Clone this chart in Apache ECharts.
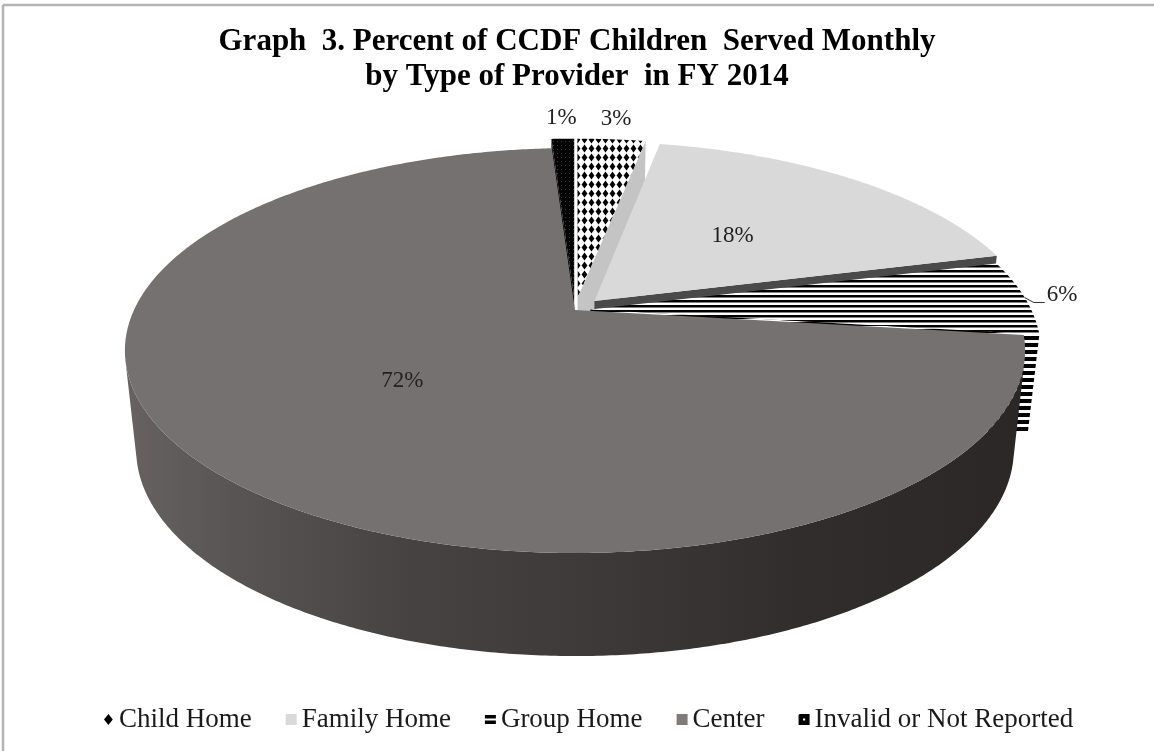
<!DOCTYPE html>
<html><head><meta charset="utf-8">
<script src="https://cdn.jsdelivr.net/npm/echarts/dist/echarts.min.js"></script>
<style>html,body{margin:0;padding:0;background:#fff}#c{width:1154px;height:751px}</style>
</head><body><div id="c"></div><script>
// ---- data ----
const titleLines = ['Graph  3. Percent of CCDF Children  Served Monthly', 'by Type of Provider  in FY 2014'];
const categories = ['Child Home', 'Family Home', 'Group Home', 'Center', 'Invalid or Not Reported'];
const percents = [3, 18, 6, 72, 1];

// ---- geometry / style (not data) ----
const GEO = { cx: 575, cy: 310, rx: 441, ry: 194.4, persp: 0.2, depthPersp: 0.05, depth: 97.9, bottomShrink: 0.025 };
const STYLE = {
  explode: [0.07, 0.065, 0.035, 0, 0.07],
  labelRadius: [1.16, 0.5, 1.0, 0.5, 1.16],
  leader: [false, false, true, false, false]
};

function proj(u, v, h) {
  const d = 1 + GEO.persp * v;
  const dd = 1 + GEO.depthPersp * v;
  return [GEO.cx + GEO.rx * u / d * (1 - GEO.bottomShrink * h), GEO.cy - GEO.ry * v / d + GEO.depth * h / dd];
}
function makePattern(w, h, draw) {
  const c = document.createElement('canvas');
  c.width = w; c.height = h;
  const g = c.getContext('2d');
  draw(g, w, h);
  return { image: c, repeat: 'repeat' };
}
const diamondPat = makePattern(7, 9, (g, w, h) => {
  g.fillStyle = '#fff'; g.fillRect(0, 0, w, h);
  g.fillStyle = '#000'; g.beginPath();
  g.moveTo(3.5, 0.6); g.lineTo(6.4, 4.5); g.lineTo(3.5, 8.4); g.lineTo(0.6, 4.5); g.closePath(); g.fill();
});
const stripePat = makePattern(4, 5, (g, w, h) => {
  g.fillStyle = '#fff'; g.fillRect(0, 0, w, h);
  g.fillStyle = '#000'; g.fillRect(0, 0, w, 2);
  g.fillStyle = '#808080'; g.fillRect(0, 2, w, 1);
});
const stripePat2 = makePattern(4, 7, (g, w, h) => {
  g.fillStyle = '#fff'; g.fillRect(0, 0, w, h);
  g.fillStyle = '#000'; g.fillRect(0, 0, w, 4);
});
const invalidPat = makePattern(4, 4, (g, w, h) => {
  g.fillStyle = '#050505'; g.fillRect(0, 0, w, h);
  g.fillStyle = '#3a3a3a'; g.fillRect(1, 1, 1, 1);
});
const wallGrad = new echarts.graphic.LinearGradient(120, 0, 1030, 0, [
  { offset: 0, color: '#686262' },
  { offset: 0.12, color: '#5a5555' },
  { offset: 0.31, color: '#474343' },
  { offset: 0.53, color: '#3d3939' },
  { offset: 0.75, color: '#312d2d' },
  { offset: 1, color: '#2b2727' }
], true);
const FILLS = {
  top: [diamondPat, '#d9d9d9', stripePat, '#767171', invalidPat],
  cut: ['#c4c4c4', '#4a4a4a', stripePat2, '#5a5555', '#000'],
  wall: ['#333', '#aaa', stripePat2, wallGrad, '#000']
};
const LABEL_FONT = '23px "Liberation Serif", "Times New Roman", serif';

function renderSlice(i) {
  return function (params, api) {
    const value = api.value(0);
    const total = percents.reduce((s, x) => s + x, 0);
    let before = 0;
    for (let j = 0; j < i; j++) before += percents[j];
    const a0 = before / total * Math.PI * 2;
    const a1 = (before + value) / total * Math.PI * 2;
    const mid = (a0 + a1) / 2;
    const e = STYLE.explode[i];
    const ou = e * Math.sin(mid), ov = e * Math.cos(mid);
    const P = (r, t, h) => proj(ou + r * Math.sin(t), ov + r * Math.cos(t), h);
    const n = Math.max(2, Math.ceil((a1 - a0) / (Math.PI / 360)));
    const top = [], bot = [];
    for (let s = 0; s <= n; s++) {
      const t = a0 + (a1 - a0) * s / n;
      top.push(P(1, t, 0)); bot.push(P(1, t, 1));
    }
    const apexT = P(0, 0, 0), apexB = P(0, 0, 1);
    const children = [];
    const area = pts => {
      let a = 0;
      for (let q = 0; q < pts.length; q++) {
        const p1 = pts[q], p2 = pts[(q + 1) % pts.length];
        a += p1[0] * p2[1] - p2[0] * p1[1];
      }
      return a;
    };
    const faces = [[apexT, apexB, bot[0], top[0]], [apexT, top[n], bot[n], apexB]];
    faces.forEach(f => {
      if (area(f) > 0) children.push({ type: 'polygon', z2: 10, shape: { points: f }, style: { fill: FILLS.cut[i] } });
    });
    // outer wall: only the segments facing the viewer
    let run = null;
    const flush = () => {
      if (run && run.length > 1) {
        const pts = run.map(s => top[s]).concat(run.slice().reverse().map(s => bot[s]));
        children.push({ type: 'polygon', z2: 20, shape: { points: pts }, style: { fill: FILLS.wall[i] } });
      }
      run = null;
    };
    for (let s = 0; s < n; s++) {
      const faceArea = area([top[s], top[s + 1], bot[s + 1], bot[s]]);
      if (faceArea < 0) { if (!run) run = [s]; run.push(s + 1); }
      else flush();
    }
    flush();
    children.push({ type: 'polygon', z2: 100, shape: { points: [apexT].concat(top) }, style: { fill: FILLS.top[i] } });
    const text = value + '%';
    if (STYLE.leader[i]) {
      const p0 = P(STYLE.labelRadius[i], mid, 0);
      const p1 = [p0[0] + 9, p0[1] + 5];
      const p2 = [p1[0] + 11, p1[1]];
      children.push({ type: 'polyline', z2: 200, shape: { points: [p0, p1, p2] }, style: { stroke: '#333', lineWidth: 1, fill: null } });
      children.push({ type: 'text', z2: 200, style: { text, x: p2[0] + 2, y: p2[1] - 8, font: LABEL_FONT, fill: '#222', align: 'left', verticalAlign: 'middle' } });
    } else {
      const pl = P(STYLE.labelRadius[i], mid, 0);
      children.push({ type: 'text', z2: 200, style: { text, x: pl[0], y: pl[1], font: LABEL_FONT, fill: '#222', align: 'center', verticalAlign: 'middle' } });
    }
    return { type: 'group', children };
  };
}

const legendIcons = [
  { icon: 'path://M4,0L8,5L4,10L0,5Z', color: '#000' },
  { icon: 'rect', color: '#d9d9d9' },
  { icon: 'path://M0,1H10V4H0Z M0,6H10V9H0Z', color: '#000' },
  { icon: 'rect', color: '#807b7b' },
  { icon: 'path://M1,0H10V10H0V1Z M4,4V6H6V4Z', color: '#000' }
];

const chart = echarts.init(document.getElementById('c'), null, { renderer: 'canvas' });
chart.setOption({
  backgroundColor: '#fff',
  animation: false,
  title: titleLines.map((t, k) => ({
    text: t, left: 'center', top: 21 + k * 35,
    textStyle: { fontFamily: 'Liberation Serif', fontWeight: 'bold', fontSize: 31, color: '#000' }
  })),
  legend: {
    bottom: 13, left: 99, itemWidth: 11, itemHeight: 11, itemGap: 34,
    textStyle: { fontFamily: 'Liberation Serif', fontSize: 27, color: '#1a1a1a' },
    data: categories.map((c, k) => ({ name: c, icon: legendIcons[k].icon, itemStyle: { color: legendIcons[k].color } })),
    selectedMode: false
  },
  graphic: [
    { type: 'line', shape: { x1: 3, y1: 5, x2: 1154, y2: 5 }, style: { stroke: '#b3b3b3', lineWidth: 2.5 } },
    { type: 'line', shape: { x1: 3, y1: 5, x2: 3, y2: 751 }, style: { stroke: '#b3b3b3', lineWidth: 2.5 } }
  ],
  series: categories.map((c, k) => ({
    type: 'custom', name: c, coordinateSystem: 'none', silent: true,
    renderItem: renderSlice(k),
    data: [{ name: c, value: [percents[k]] }]
  }))
});
</script></body></html>
